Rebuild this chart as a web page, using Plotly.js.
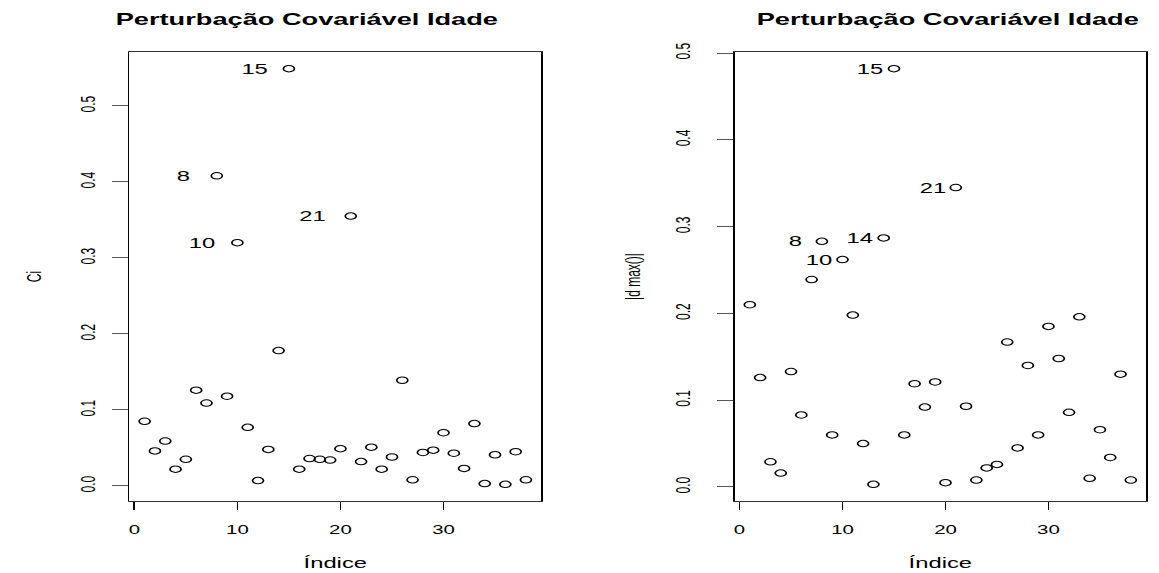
<!DOCTYPE html>
<html>
<head>
<meta charset="utf-8">
<script src="https://cdn.plot.ly/plotly-3.0.1.min.js"></script>
<style>
  html, body { margin: 0; padding: 0; background: #fff; overflow: hidden; }
  #wrap { width: 1159px; height: 573px; overflow: hidden; }
  #plot { width: 681.76px; height: 573px; transform: scaleX(1.7); transform-origin: 0 0; }
</style>
</head>
<body>
<div id="wrap"><div id="plot"></div></div>
<script>
// ---- data ----
const indice = [1,2,3,4,5,6,7,8,9,10,11,12,13,14,15,16,17,18,19,20,21,22,23,24,25,26,27,28,29,30,31,32,33,34,35,36,37,38];
const ci = [0.085,0.046,0.059,0.022,0.035,0.126,0.109,0.408,0.118,0.320,
            0.077,0.007,0.048,0.178,0.549,0.022,0.036,0.035,0.034,0.049,
            0.355,0.032,0.051,0.022,0.038,0.139,0.008,0.044,0.047,0.070,
            0.043,0.023,0.082,0.003,0.041,0.002,0.045,0.008];
const dmax = [0.210,0.126,0.029,0.016,0.133,0.083,0.239,0.283,0.060,0.262,
              0.198,0.050,0.003,0.287,0.482,0.060,0.119,0.092,0.121,0.005,
              0.345,0.093,0.008,0.022,0.026,0.167,0.045,0.140,0.060,0.185,
              0.148,0.086,0.196,0.010,0.066,0.034,0.130,0.008];
const ciLabelled = [15, 8, 21, 10];
const dmaxLabelled = [15, 21, 8, 14, 10];
const yTicks = [0, 0.1, 0.2, 0.3, 0.4, 0.5];
const xTicks = [0, 10, 20, 30];
const titleText = "Perturbação Covariável Idade";
const xTitle = "Índice";
const yTitleLeft = "Ci";
const yTitleRight = "|d max()|";

// ---- styling / layout ----
const FONT = "Liberation Sans, Arial, Helvetica, sans-serif";
const S = 1.7; // horizontal stretch of the page
function rng(v) { const lo = Math.min(...v), hi = Math.max(...v), p = 0.04 * (hi - lo); return [lo - p, hi + p]; }

// label gaps (px, unstretched) between point and right edge of its label
const gapLeft = {15: 10, 8: 14, 21: 12, 10: 10.6};
const gapRight = {15: 4, 21: 3.5, 8: 9.2, 14: 3.8, 10: 3.6};

function pointTrace(y, xa, ya) {
  return { x: indice, y: y, xaxis: xa, yaxis: ya, type: 'scatter', mode: 'markers',
    marker: { symbol: 'circle-open', size: 6.5, color: '#000', line: { width: 1, color: '#000' } },
    hoverinfo: 'skip', showlegend: false };
}

const xr = rng(indice);
function xAxis(domain, anchor) {
  return { domain: domain, anchor: anchor, range: xr, tickmode: 'array', tickvals: xTicks,
    ticks: 'outside', ticklen: 7.5, tickwidth: 1, tickcolor: '#000',
    showline: true, mirror: true, linecolor: '#333', linewidth: 1,
    showgrid: false, zeroline: false, ticklabelstandoff: 10,
    tickfont: { family: FONT, size: 12, color: '#000' },
    title: { text: xTitle, font: { family: FONT, size: 14, color: '#000' }, standoff: 22 } };
}
function yAxis(range, anchor, titleText, standoffLab, standoffTitle) {
  return { domain: [0, 1], anchor: anchor, range: range, tickmode: 'array', tickvals: yTicks,
    tickformat: '.1f', tickangle: -90,
    ticks: 'outside', ticklen: 9.4, tickwidth: 1, tickcolor: '#555',
    showline: true, mirror: true, linecolor: '#000', linewidth: 1,
    showgrid: false, zeroline: false, ticklabelstandoff: standoffLab,
    tickfont: { family: FONT, size: 12, color: '#000' },
    title: { text: titleText, font: { family: FONT, size: 12, color: '#000' }, standoff: standoffTitle } };
}

const annotations = [];
ciLabelled.forEach(i => annotations.push({ x: indice[i-1], y: ci[i-1], xref: 'x', yref: 'y', text: String(i),
  showarrow: false, xanchor: 'right', yanchor: 'middle', xshift: -gapLeft[i],
  font: { family: FONT, size: 14, color: '#000' } }));
dmaxLabelled.forEach(i => annotations.push({ x: indice[i-1], y: dmax[i-1], xref: 'x2', yref: 'y2', text: String(i),
  showarrow: false, xanchor: 'right', yanchor: 'middle', xshift: -gapRight[i],
  font: { family: FONT, size: 14, color: '#000' } }));
// panel titles
const W = 681.76, PH = 573 - 52 - 71.5;
[306 / S / W, 948 / S / W].forEach(cx => annotations.push({ x: cx, y: 1 + 33 / PH, xref: 'paper', yref: 'paper',
  text: '<b>' + titleText + '</b>', showarrow: false, xanchor: 'center', yanchor: 'middle',
  font: { family: FONT, size: 16, color: '#000' } }));

const layout = {
  width: W, height: 573,
  margin: { l: 0, r: 0, t: 52, b: 71.5, pad: 0 },
  paper_bgcolor: '#fff', plot_bgcolor: '#fff', showlegend: false,
  xaxis: xAxis([0.1116, 0.4668], 'y'),
  yaxis: yAxis(rng(ci), 'x', yTitleLeft, 5, 17),
  xaxis2: xAxis([0.6336, 0.9885], 'y2'),
  yaxis2: yAxis(rng(dmax), 'x2', yTitleRight, 11, 15),
  annotations: annotations
};

Plotly.newPlot('plot', [pointTrace(ci, 'x', 'y'), pointTrace(dmax, 'x2', 'y2')], layout, { staticPlot: true, displayModeBar: false });
</script>
</body>
</html>
